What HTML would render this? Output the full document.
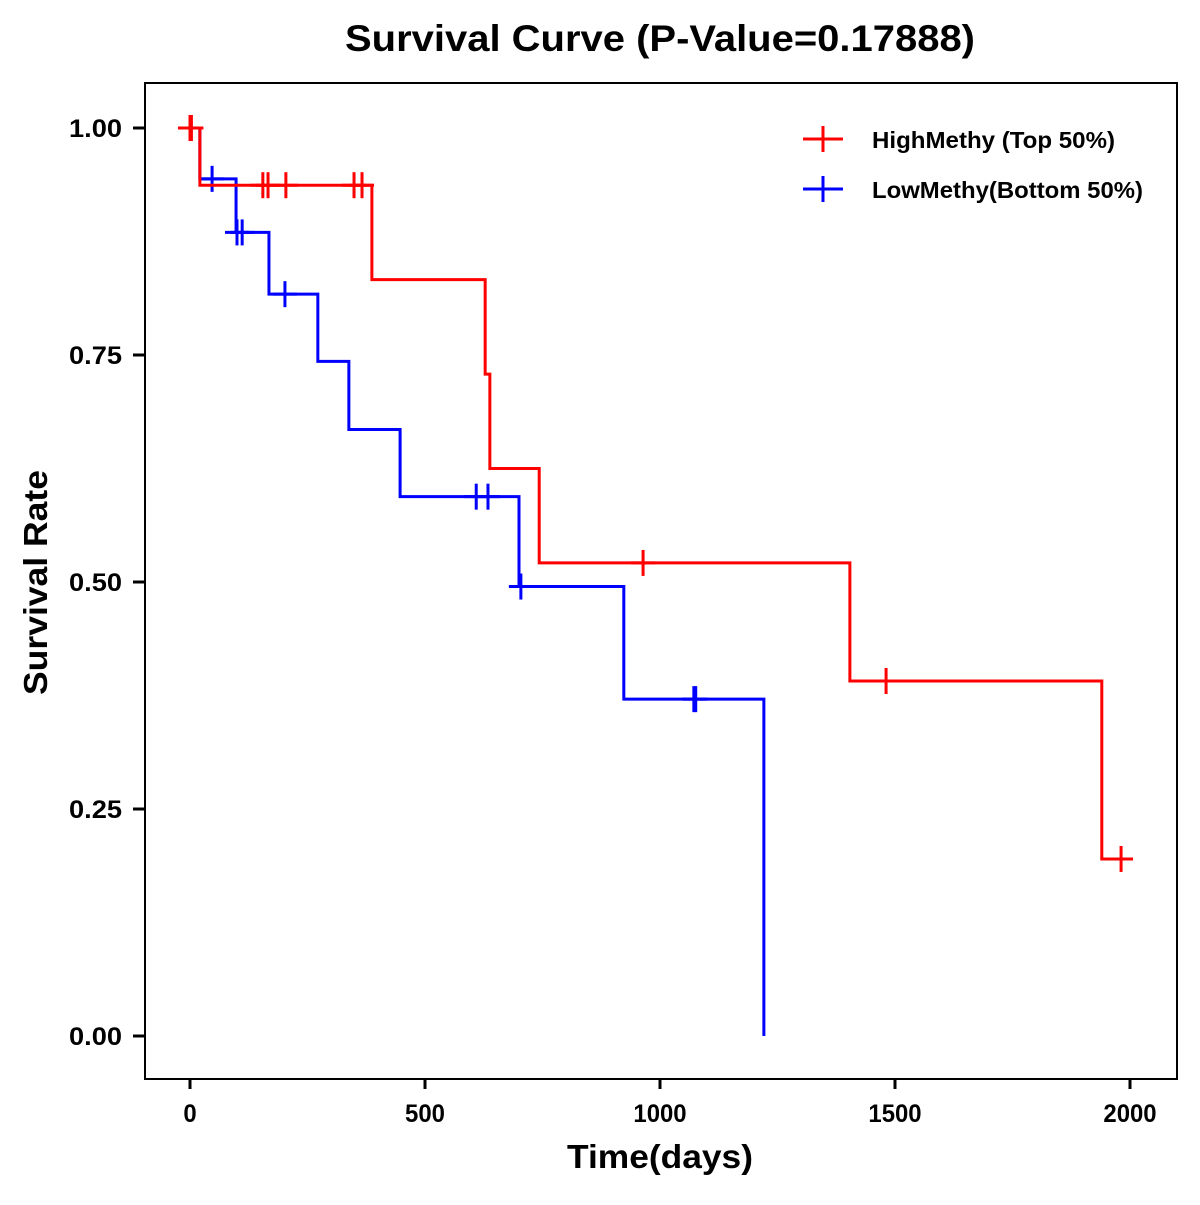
<!DOCTYPE html>
<html><head><meta charset="utf-8"><style>
html,body{margin:0;padding:0;background:#fff;}
svg text{font-family:"Liberation Sans",Arial,sans-serif;font-weight:bold;}
</style></head><body>
<svg id="chart" width="1200" height="1200" viewBox="0 0 1200 1200" xmlns="http://www.w3.org/2000/svg">
<rect width="1200" height="1200" fill="#fff"/>
<text x="345" y="51" font-size="37" textLength="630" lengthAdjust="spacingAndGlyphs">Survival Curve (P-Value=0.17888)</text>
<rect x="145" y="83" width="1032" height="996" fill="none" stroke="#000" stroke-width="2"/>
<g id="axes"></g>
<g id="series"></g>
<text x="567" y="1168" font-size="33" textLength="186" lengthAdjust="spacingAndGlyphs">Time(days)</text>
<text transform="translate(47,695) rotate(-90)" font-size="33" textLength="225" lengthAdjust="spacingAndGlyphs">Survival Rate</text>
<g>
  <line x1="803" y1="139" x2="843" y2="139" stroke="#f00" stroke-width="3"/>
  <line x1="823" y1="126" x2="823" y2="152" stroke="#f00" stroke-width="3"/>
  <text x="872" y="148" font-size="23" textLength="243" lengthAdjust="spacingAndGlyphs">HighMethy (Top 50%)</text>
  <line x1="803" y1="189" x2="843" y2="189" stroke="#00f" stroke-width="3"/>
  <line x1="823" y1="176" x2="823" y2="202" stroke="#00f" stroke-width="3"/>
  <text x="872" y="198" font-size="23" textLength="271" lengthAdjust="spacingAndGlyphs">LowMethy(Bottom 50%)</text>
</g>
</svg>
<script>
const xTicks = [0, 500, 1000, 1500, 2000];
const yTicks = [0, 0.25, 0.5, 0.75, 1.0];
const yTickLabels = ["0.00", "0.25", "0.50", "0.75", "1.00"];
const highTimes = [0, 21, 387, 628, 638, 743, 1404, 1940];
const highSurv = [1.0, 0.937, 0.833, 0.729, 0.625, 0.521, 0.391, 0.195];
const highEnd = 1998;
const highCensor = [0, 3, 155, 166, 204, 349, 366, 964, 1481, 1981];
const lowTimes = [0, 21, 98, 168, 272, 338, 447, 700, 923, 1221];
const lowSurv = [1.0, 0.944, 0.885, 0.817, 0.743, 0.668, 0.594, 0.495, 0.371, 0.0];
const lowEnd = 1221;
const lowCensor = [47, 100, 111, 202, 609, 634, 704, 1072, 1076];

const NS = "http://www.w3.org/2000/svg";
function xs(d){ return 190 + d * 0.47; }
function ys(v){ return 1036 - v * 908; }
function mk(tag, attrs, parent){ const e = document.createElementNS(NS, tag); for (const k in attrs) e.setAttribute(k, attrs[k]); parent.appendChild(e); return e; }
const axes = document.getElementById('axes');
xTicks.forEach(t => {
  const l = mk('line', {x1: xs(t), x2: xs(t), y1: 1079, y2: 1089, stroke: '#000', 'stroke-width': 3}, axes);
  
  
  const s = String(t);
  const tx = mk('text', {x: xs(t), y: 1122, 'font-size': 25, 'text-anchor': 'middle', textLength: s.length * 13.3, lengthAdjust: 'spacingAndGlyphs'}, axes);
  tx.textContent = s;
  
  
});
yTicks.forEach((t, i) => {
  const l = mk('line', {x1: 133, x2: 145, y1: ys(t), y2: ys(t), stroke: '#000', 'stroke-width': 3}, axes);
  
  
  const tx = mk('text', {x: 69, y: ys(t) + 9, 'font-size': 25, textLength: 53, lengthAdjust: 'spacingAndGlyphs'}, axes);
  tx.textContent = yTickLabels[i];
  
  
});
const series = document.getElementById('series');
function survAt(times, surv, t){ let s = surv[0]; for (let i = 0; i < times.length; i++) if (times[i] <= t) s = surv[i]; return s; }
function drawSeries(times, surv, end, censor, color, name){
  let d = 'M' + xs(times[0]) + ',' + ys(surv[0]);
  for (let i = 1; i < times.length; i++) {
    d += ' H' + xs(times[i]) + ' V' + ys(surv[i]);
  }
  d += ' H' + xs(end);
  const p = mk('path', {d: d, fill: 'none', stroke: color, 'stroke-width': 3}, series);
  
  
  censor.forEach(c => {
    const s = survAt(times, surv, c);
    const g = mk('g', {stroke: color, 'stroke-width': 3}, series);
    
    
    mk('line', {x1: xs(c) - 12, x2: xs(c) + 12, y1: ys(s), y2: ys(s)}, g);
    mk('line', {x1: xs(c), x2: xs(c), y1: ys(s) - 13, y2: ys(s) + 13}, g);
  });
}
drawSeries(lowTimes, lowSurv, lowEnd, lowCensor, '#00f', 'low-methy');
drawSeries(highTimes, highSurv, highEnd, highCensor, '#f00', 'high-methy');
</script>
</body></html>
